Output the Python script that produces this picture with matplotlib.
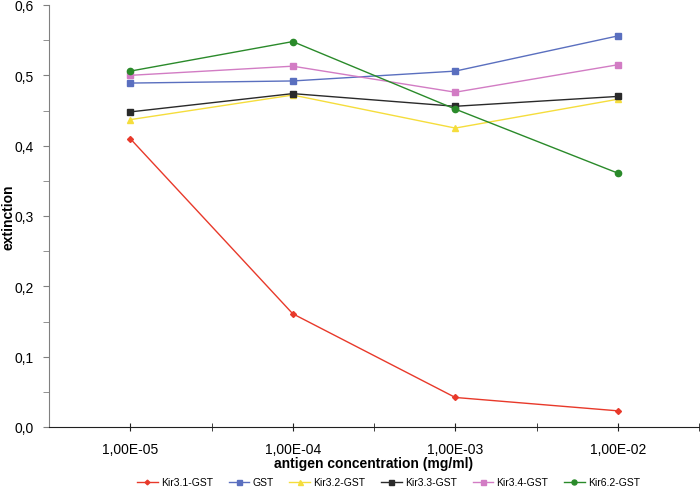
import matplotlib
matplotlib.use("Agg")
import matplotlib.pyplot as plt
from matplotlib.ticker import MultipleLocator, FixedLocator

plt.rcParams['font.family'] = ['Liberation Sans', 'DejaVu Sans']

categories = ["1,00E-05", "1,00E-04", "1,00E-03", "1,00E-02"]
kir31 = [0.410, 0.161, 0.042, 0.023]
gst = [0.489, 0.492, 0.506, 0.556]
kir32 = [0.437, 0.472, 0.425, 0.466]
kir33 = [0.448, 0.474, 0.456, 0.470]
kir34 = [0.500, 0.513, 0.476, 0.515]
kir62 = [0.506, 0.548, 0.452, 0.361]

series = [
    ("Kir3.1-GST", kir31, "#e8392a", "D", 3),
    ("GST", gst, "#5a6fbf", "s", 4.5),
    ("Kir3.2-GST", kir32, "#f5dd3c", "^", 4.5),
    ("Kir3.3-GST", kir33, "#2a2a2a", "s", 4.5),
    ("Kir3.4-GST", kir34, "#d27cc4", "s", 4.5),
    ("Kir6.2-GST", kir62, "#2a8a2a", "o", 4.5),
]

fig = plt.figure(figsize=(7, 4.89), dpi=100)
ax = fig.add_axes([49/700, 1-428/489, 650/700, 422/489])
x = list(range(1, len(categories)+1))
for name, vals, col, mk, ms in series:
    ax.plot(x, vals, color=col, marker=mk, markersize=ms, linewidth=1.0, label=name)

ax.set_xlim(0.5, 4.5)
ax.set_ylim(0, 0.6)
ax.xaxis.set_major_locator(FixedLocator(x))
ax.set_xticklabels(categories)
ax.xaxis.set_minor_locator(FixedLocator([1.5, 2.5, 3.5, 4.5]))
ax.yaxis.set_major_locator(MultipleLocator(0.1))
ax.yaxis.set_minor_locator(MultipleLocator(0.05))
ax.yaxis.set_major_formatter(matplotlib.ticker.FuncFormatter(lambda v, p: f"{v:.1f}".replace(".", ",")))

for s in ["top", "right"]:
    ax.spines[s].set_visible(False)
ax.spines["left"].set_color("#808080")
ax.spines["bottom"].set_color("#202020")
ax.tick_params(axis="y", which="both", direction="out", length=4, color="#808080", labelsize=10, pad=7)
ax.tick_params(axis="x", which="both", direction="inout", length=6, color="#202020", labelsize=10, pad=8)

ax.set_ylabel("extinction", fontsize=10, fontweight="bold")
ax.yaxis.set_label_coords((16-49)/650, 0.5)
ax.set_xlabel("antigen concentration (mg/ml)", fontsize=10, fontweight="bold")
ax.xaxis.set_label_coords(0.5, (428-457)/422)

fig.legend(loc="lower center", bbox_to_anchor=(0.555, -0.018), ncol=6, frameon=False,
           fontsize=7.5, handlelength=2.0, columnspacing=1.5, handletextpad=0.3, markerscale=0.8)

fig.savefig("out.png", dpi=100)
